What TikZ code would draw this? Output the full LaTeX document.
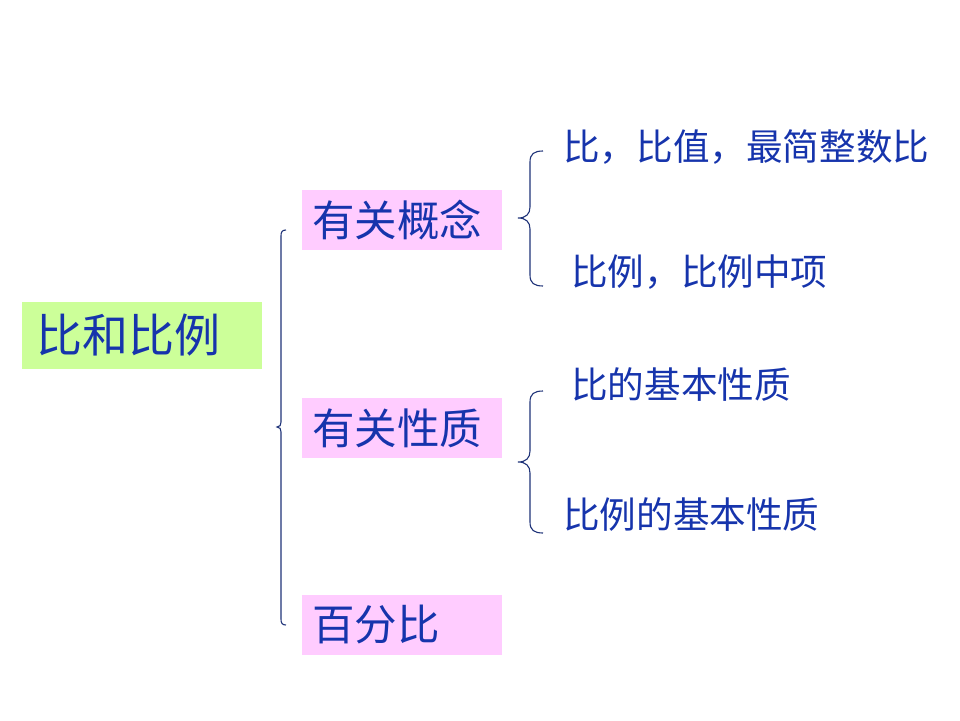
\documentclass[tikz,border=0pt]{standalone}
\usepackage{fontspec}
\newfontfamily\cjk{Noto Sans CJK SC}
\definecolor{txtblue}{RGB}{22,52,172}
\definecolor{bracecol}{RGB}{30,50,120}
\definecolor{rootgreen}{RGB}{204,255,153}
\definecolor{boxpink}{RGB}{255,204,255}
\begin{document}
\begin{tikzpicture}[x=1pt,y=-1pt,
  rootbox/.style={fill=rootgreen,anchor=west,minimum height=67pt,inner xsep=14pt,inner ysep=0pt,text width=212pt,align=left,text=txtblue,font=\cjk\fontsize{46}{50}\selectfont},
  pinkbox/.style={fill=boxpink,anchor=west,minimum height=60pt,inner xsep=10pt,inner ysep=0pt,text width=180pt,align=left,text=txtblue,font=\cjk\fontsize{42.5}{46}\selectfont},
  leaf/.style={anchor=west,inner sep=0pt,text=txtblue,font=\cjk\fontsize{36.6}{40}\selectfont},
  bracepath/.style={draw=bracecol,line width=1.1pt}]
\useasboundingbox (0,0) rectangle (960,720);
\node[rootbox] (root) at (22,335.5) {比和比例};
\node[pinkbox] (c1) at (302,220) {有关概念};
\node[pinkbox] (c2) at (302,428) {有关性质};
\node[pinkbox] (c3) at (302,625) {百分比};
\node[leaf] (l1) at (563,147) {比，比值，最简整数比};
\node[leaf] (l2) at (571,272) {比例，比例中项};
\node[leaf] (l3) at (571,385) {比的基本性质};
\node[leaf] (l4) at (563,515) {比例的基本性质};
% big brace
\coordinate (b1top) at (286,230);
\coordinate (b1tip) at (277,427);
\coordinate (b1bot) at (286,625);
\draw[bracepath] (b1top) .. controls (282,230) and (281,232) .. (281,236) -- (281,422) .. controls (281,425) and (280,427) .. (b1tip) .. controls (280,427) and (281,429) .. (281,432) -- (281,619) .. controls (281,623) and (282,625) .. (b1bot);
% brace 2
\coordinate (b2top) at (543,151);
\coordinate (b2tip) at (518,218);
\coordinate (b2bot) at (543,286);
\draw[bracepath] (b2top) .. controls (534,151) and (530,154) .. (530,162) -- (530,207) .. controls (530,214) and (526,218) .. (b2tip) .. controls (526,218) and (530,222) .. (530,229) -- (530,275) .. controls (530,283) and (534,286) .. (b2bot);
% brace 3
\coordinate (b3top) at (543,391);
\coordinate (b3tip) at (518,462);
\coordinate (b3bot) at (543,533);
\draw[bracepath] (b3top) .. controls (534,391) and (530,394) .. (530,402) -- (530,451) .. controls (530,458) and (526,462) .. (b3tip) .. controls (526,462) and (530,466) .. (530,473) -- (530,522) .. controls (530,530) and (534,533) .. (b3bot);
\end{tikzpicture}
\end{document}
